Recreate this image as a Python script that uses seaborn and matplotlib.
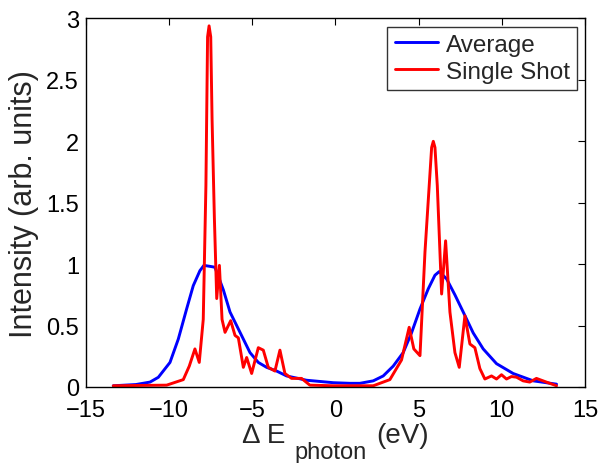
import numpy as np
import pandas as pd
import seaborn as sns
import matplotlib.pyplot as plt

# values
avg_x = [-13.36, -12.0, -11.15, -10.65, -9.95, -9.45, -8.95, -8.55, -8.15, -7.91,
         -7.45, -7.25, -6.74, -6.34, -5.94, -5.54, -5.14, -4.64, -4.14, -3.54,
         -2.94, -1.74, -0.13, 0.87, 1.47, 2.27, 2.87, 3.47, 4.07, 4.57, 5.08,
         5.58, 5.98, 6.24, 6.68, 7.18, 7.68, 8.28, 8.88, 9.68, 10.68, 11.89, 13.29]
avg_y = [0.01, 0.02, 0.04, 0.079, 0.2, 0.39, 0.635, 0.825, 0.947, 0.99,
         0.98, 0.975, 0.79, 0.61, 0.5, 0.39, 0.28, 0.2, 0.16, 0.13,
         0.09, 0.055, 0.035, 0.03, 0.03, 0.05, 0.09, 0.17, 0.28, 0.44, 0.635,
         0.80, 0.91, 0.94, 0.88, 0.75, 0.61, 0.44, 0.31, 0.19, 0.11, 0.05, 0.023]

shot_x = [-13.36, -10.15, -9.15, -8.79, -8.45, -8.19, -7.95, -7.79, -7.69, -7.6,
          -7.5, -7.42, -7.28, -7.14, -6.98, -6.82, -6.64, -6.3, -6.04, -5.84,
          -5.54, -5.34, -5.04, -4.64, -4.34, -4.04, -3.64, -3.34, -3.04, -2.64,
          -2.04, -1.54, -0.13, 2.27, 3.27, 3.97, 4.43, 4.71, 5.08, 5.38,
          5.78, 5.88, 5.98, 6.12, 6.38, 6.62, 6.88, 7.18, 7.44, 7.78, 8.08,
          8.38, 8.68, 8.98, 9.38, 9.68, 9.98, 10.28, 10.58, 10.88, 11.28,
          11.68, 12.08, 12.48, 12.88, 13.29]
shot_y = [0.01, 0.015, 0.06, 0.17, 0.31, 0.20, 0.55, 1.64, 2.85, 2.94,
          2.85, 2.18, 1.37, 0.72, 0.99, 0.55, 0.445, 0.54, 0.42, 0.40,
          0.16, 0.24, 0.11, 0.32, 0.30, 0.16, 0.13, 0.30, 0.11, 0.07,
          0.07, 0.015, 0.01, 0.01, 0.06, 0.22, 0.486, 0.31, 0.255, 1.1,
          1.95, 2.0, 1.95, 1.64, 0.757, 1.19, 0.61, 0.28, 0.16, 0.58, 0.35,
          0.32, 0.15, 0.065, 0.09, 0.065, 0.1, 0.065, 0.085, 0.08, 0.05,
          0.04, 0.07, 0.05, 0.03, 0.01]

df = pd.concat([
    pd.DataFrame({"x": avg_x, "y": avg_y, "series": "Average"}),
    pd.DataFrame({"x": shot_x, "y": shot_y, "series": "Single Shot"}),
])

sns.set_style("white")
plt.rcParams["font.family"] = ["Liberation Sans", "DejaVu Sans"]

fig = plt.figure(figsize=(6, 4.64), dpi=100)
ax = fig.add_axes([0.1433, 0.1638, 0.975 - 0.1433, 0.958 - 0.1638])

sns.lineplot(data=df, x="x", y="y", hue="series", sort=False,
             palette={"Average": "#0000ff", "Single Shot": "#ff0000"},
             linewidth=2.1, ax=ax)

ax.set_xlim(-15, 15)
ax.set_ylim(0, 3)
ax.set_xticks([-15, -10, -5, 0, 5, 10, 15])
ax.set_xticklabels(["\u221215", "\u221210", "\u22125", "0", "5", "10", "15"])
ax.set_yticks([0, 0.5, 1, 1.5, 2, 2.5, 3])
ax.set_yticklabels(["0", "0.5", "1", "1.5", "2", "2.5", "3"])
ax.tick_params(direction="in", length=5, width=0.8, top=True, right=True,
               labelsize=17, colors="black")
ax.tick_params(axis="x", pad=9)
ax.tick_params(axis="y", pad=5)
for s in ax.spines.values():
    s.set_color("black")
    s.set_linewidth(1.0)

ax.set_ylabel("Intensity (arb. units)", fontsize=22, labelpad=5)
ax.set_xlabel("")

# x label with a large subscript, built from three pieces and centred on the axes
renderer = fig.canvas.get_renderer()
W = fig.bbox.width
y_main = 1 - 443 / 464
y_sub = 1 - 459 / 464
t1 = fig.text(0, y_main, "\u0394 E", fontsize=20, va="baseline", ha="left")
t2 = fig.text(0, y_sub, "photon", fontsize=17, va="baseline", ha="left")
t3 = fig.text(0, y_main, "(eV)", fontsize=20, va="baseline", ha="left")
w1 = t1.get_window_extent(renderer).width
w2 = t2.get_window_extent(renderer).width
w3 = t3.get_window_extent(renderer).width
total = w1 + 9 + w2 + 10 + w3
x_start = ax.get_window_extent(renderer).x0 + ax.get_window_extent(renderer).width / 2 - total / 2
t1.set_x(x_start / W)
t2.set_x((x_start + w1 + 9) / W)
t3.set_x((x_start + w1 + 9 + w2 + 10) / W)

leg = ax.legend(loc="upper right", fontsize=17.5, frameon=True, fancybox=False,
                borderaxespad=0.33, handlelength=1.8, borderpad=0.3,
                labelspacing=0.2, handletextpad=0.3)
leg.get_frame().set_edgecolor("black")
leg.get_frame().set_linewidth(1.0)

fig.savefig("out.png", dpi=100)
